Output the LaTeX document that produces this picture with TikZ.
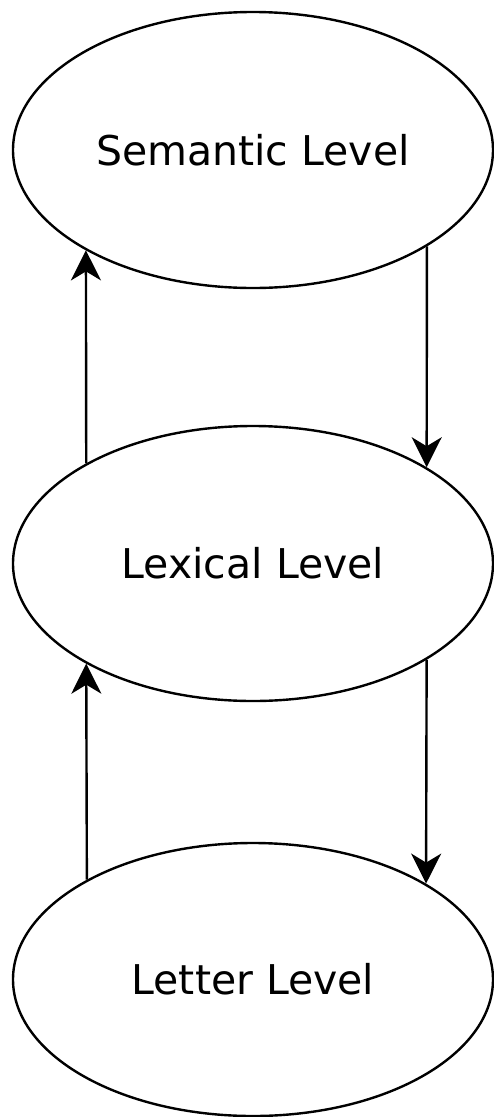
\documentclass[tikz,border=0pt]{standalone}
\usepackage{fontspec}
\setmainfont{DejaVu Sans}
\usetikzlibrary{shapes.geometric,arrows.meta}
\begin{document}
\begin{tikzpicture}[x=1pt,y=-1pt,
  level/.style={ellipse,draw,line width=2.4pt,minimum width=480pt,inner sep=0pt,
    font=\fontsize{41}{48}\selectfont},
  conn/.style={line width=2.4pt,-{Stealth[length=30pt,width=30pt,inset=9pt]}}]
\useasboundingbox (0,0) rectangle (494,1117);
\node[level,minimum height=276pt] (sem) at (253,150) {Semantic Level};
\node[level,minimum height=275pt] (lex) at (253,563.5) {Lexical Level};
\node[level,minimum height=273pt] (let) at (253,979.5) {Letter Level};
\draw[conn] (lex.149.7) -- (sem.-149);
\draw[conn] (sem.-29.8) -- (lex.29.7);
\draw[conn] (let.149.7) -- (lex.-149.1);
\draw[conn] (lex.-29.7) -- (let.29.7);
\end{tikzpicture}
\end{document}
